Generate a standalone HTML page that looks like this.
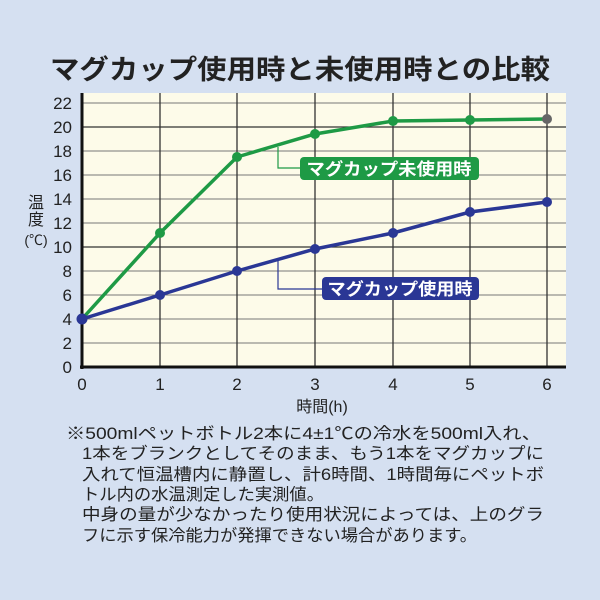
<!DOCTYPE html>
<html><head><meta charset="utf-8"><style>
html,body{margin:0;padding:0;background:#d5e0f1;}
svg{display:block;font-family:"Liberation Sans","Noto Sans CJK JP",sans-serif;}
</style></head><body>
<svg width="600" height="600" viewBox="0 0 600 600" xmlns="http://www.w3.org/2000/svg">
<rect width="600" height="600" fill="#d5e0f1"/>
<text x="300" y="79" font-size="27" font-weight="bold" fill="#222" text-anchor="middle" textLength="500" lengthAdjust="spacingAndGlyphs">マグカップ使用時と未使用時との比較</text>
<rect x="82" y="93" width="484" height="274" fill="#fdfbe9"/>
<g stroke="#777" stroke-width="1">
<line x1="82" x2="566" y1="103" y2="103"/><line x1="82" x2="566" y1="151" y2="151"/><line x1="82" x2="566" y1="175" y2="175"/><line x1="82" x2="566" y1="199" y2="199"/><line x1="82" x2="566" y1="223" y2="223"/><line x1="82" x2="566" y1="271" y2="271"/><line x1="82" x2="566" y1="295" y2="295"/><line x1="82" x2="566" y1="319" y2="319"/><line x1="82" x2="566" y1="343" y2="343"/>
</g>
<g stroke="#333" stroke-width="1.3">
<line x1="82" x2="566" y1="127" y2="127"/><line x1="82" x2="566" y1="247" y2="247"/>
<line x1="160" x2="160" y1="93" y2="367"/><line x1="237" x2="237" y1="93" y2="367"/><line x1="315" x2="315" y1="93" y2="367"/><line x1="393" x2="393" y1="93" y2="367"/><line x1="470" x2="470" y1="93" y2="367"/><line x1="547" x2="547" y1="93" y2="367"/>
</g>
<line x1="82" x2="82" y1="93" y2="369" stroke="#111" stroke-width="3"/>
<line x1="80" x2="566" y1="367" y2="367" stroke="#111" stroke-width="3"/>
<g font-size="17" fill="#222" text-anchor="end">
<text x="72" y="109">22</text><text x="72" y="133">20</text><text x="72" y="157">18</text><text x="72" y="181">16</text><text x="72" y="205">14</text><text x="72" y="229">12</text><text x="72" y="253">10</text><text x="72" y="277">8</text><text x="72" y="301">6</text><text x="72" y="325">4</text><text x="72" y="349">2</text><text x="72" y="373">0</text>
</g>
<g font-size="17" fill="#222" text-anchor="middle">
<text x="82" y="390">0</text><text x="160" y="390">1</text><text x="237" y="390">2</text><text x="315" y="390">3</text><text x="393" y="390">4</text><text x="470" y="390">5</text><text x="547" y="390">6</text>
<text x="322" y="412" font-size="16">時間(h)</text>
</g>
<g font-size="16" fill="#222" text-anchor="middle">
<text x="36" y="208">温</text><text x="36" y="225">度</text><text x="36" y="245" font-size="14">(℃)</text>
</g>
<!-- connectors -->
<polyline points="278,147 278,168 300,168" fill="none" stroke="#1e9a45" stroke-width="1.2"/>
<polyline points="278,260 278,289 322,289" fill="none" stroke="#2a3795" stroke-width="1.2"/>
<!-- green -->
<polyline points="82,319 160,233 237,157 315,134 393,121 470,120 547,119" fill="none" stroke="#1e9a45" stroke-width="3.5"/>
<g fill="#1e9a45"><circle cx="160" cy="233" r="5"/><circle cx="237" cy="157" r="5"/><circle cx="315" cy="134" r="5"/><circle cx="393" cy="121" r="5"/><circle cx="470" cy="120" r="5"/></g>
<circle cx="547" cy="119" r="5" fill="#666"/>
<!-- blue -->
<polyline points="82,319 160,295 237,271 315,249 393,233 470,212 547,202" fill="none" stroke="#2a3795" stroke-width="3.5"/>
<g fill="#2a3795"><circle cx="82" cy="319" r="5.5"/><circle cx="160" cy="295" r="5"/><circle cx="237" cy="271" r="5"/><circle cx="315" cy="249" r="5"/><circle cx="393" cy="233" r="5"/><circle cx="470" cy="212" r="5"/><circle cx="547" cy="202" r="5"/></g>
<rect x="300" y="157" width="179" height="23" rx="4" fill="#1e9a45"/>
<text x="389" y="175" font-size="17" font-weight="bold" fill="#fff" text-anchor="middle" textLength="165" lengthAdjust="spacingAndGlyphs">マグカップ未使用時</text>
<rect x="322" y="277" width="157" height="23" rx="4" fill="#2a3795"/>
<text x="400" y="295" font-size="17" font-weight="bold" fill="#fff" text-anchor="middle" textLength="145" lengthAdjust="spacingAndGlyphs">マグカップ使用時</text>
<g font-size="16.5" fill="#222">
<text x="66" y="439" textLength="475" lengthAdjust="spacingAndGlyphs">※500mlペットボトル2本に4±1℃の冷水を500ml入れ、</text>
<text x="82" y="459" textLength="462" lengthAdjust="spacingAndGlyphs">1本をブランクとしてそのまま、もう1本をマグカップに</text>
<text x="82" y="480" textLength="462" lengthAdjust="spacingAndGlyphs">入れて恒温槽内に静置し、計6時間、1時間毎にペットボ</text>
<text x="82" y="500" textLength="242" lengthAdjust="spacingAndGlyphs">トル内の水温測定した実測値。</text>
<text x="82" y="520" textLength="462" lengthAdjust="spacingAndGlyphs">中身の量が少なかったり使用状況によっては、上のグラ</text>
<text x="82" y="541" textLength="395" lengthAdjust="spacingAndGlyphs">フに示す保冷能力が発揮できない場合があります。</text>
</g>
</svg>
</body></html>
